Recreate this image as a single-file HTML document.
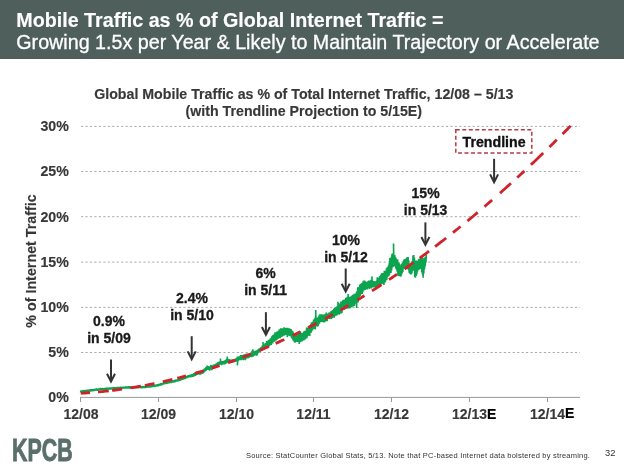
<!DOCTYPE html>
<html><head><meta charset="utf-8">
<style>
html,body{margin:0;padding:0;background:#fff;}
body{width:624px;height:470px;position:relative;overflow:hidden;font-family:"Liberation Sans",Arial,Helvetica,sans-serif;}
.hdr{position:absolute;left:0;top:0;width:624px;height:57px;background:#4e5f5c;border-bottom:2px solid #545b58;}
.h1{position:absolute;left:16.3px;top:8.5px;font-size:19.7px;font-weight:bold;color:#fff;-webkit-text-stroke:0.15px #fff;white-space:nowrap;line-height:23px;}
.h2{position:absolute;left:16.3px;top:31.3px;font-size:19.7px;color:#fff;-webkit-text-stroke:0.3px #fff;white-space:nowrap;line-height:23px;}
.t{position:absolute;white-space:nowrap;font-weight:bold;color:#333;-webkit-text-stroke:0.3px currentColor;}
.ct{color:#383838;-webkit-text-stroke:0.15px currentColor;}
.yl,.xl,.xe,.yl2{color:#383838;-webkit-text-stroke:0.15px currentColor;}
.ann{color:#1a1a1a;}
.ct{left:0.8px;width:606px;text-align:center;font-size:14.2px;line-height:17px;}
.yl{width:40px;text-align:right;font-size:14.2px;line-height:16px;left:28.8px;margin-top:-0.7px;}
.xl{font-size:14px;line-height:16px;text-align:center;width:60px;}
.ann{font-size:14px;line-height:17px;text-align:center;width:80px;}
svg{position:absolute;left:0;top:0;}
.kpcb{position:absolute;left:12px;top:434px;font-size:31px;font-weight:bold;color:#5a6e6a;-webkit-text-stroke:0.9px #5a6e6a;transform-origin:0 0;transform:scaleX(0.69);line-height:34px;}
.src{position:absolute;left:246px;top:450.8px;font-size:7.5px;letter-spacing:0.21px;color:#333;white-space:nowrap;line-height:9px;}
.pg{position:absolute;left:605px;top:447.5px;font-size:9.3px;color:#333;line-height:11px;}
</style></head><body>
<div id="wrap" style="position:absolute;left:0;top:0;width:624px;height:470px;will-change:transform;">
<div class="hdr"></div>
<div class="h1">Mobile Traffic as % of Global Internet Traffic =</div>
<div class="h2">Growing 1.5x per Year &amp; Likely to Maintain Trajectory or Accelerate</div>

<div class="t ct" style="top:86px;">Global Mobile Traffic as % of Total Internet Traffic, 12/08 – 5/13</div>
<div class="t ct" style="top:102.5px;">(with Trendline Projection to 5/15E)</div>

<svg width="624" height="470" viewBox="0 0 624 470">
  <g stroke="#ababab" stroke-width="1" stroke-dasharray="2.2 2.25" fill="none">
    <line x1="81" y1="126.4" x2="580" y2="126.4"/>
    <line x1="81" y1="171.5" x2="580" y2="171.5"/>
    <line x1="81" y1="216.7" x2="580" y2="216.7"/>
    <line x1="81" y1="262.1" x2="580" y2="262.1"/>
    <line x1="81" y1="307.4" x2="580" y2="307.4"/>
    <line x1="81" y1="352.5" x2="580" y2="352.5"/>
  </g>
  <g stroke="#9a9a9a" stroke-width="1" fill="none">
    <line x1="80" y1="397.4" x2="580" y2="397.4"/>
    <line x1="80.5" y1="397" x2="80.5" y2="402"/>
    <line x1="158.5" y1="397" x2="158.5" y2="402"/>
    <line x1="236.5" y1="397" x2="236.5" y2="402"/>
    <line x1="313.5" y1="397" x2="313.5" y2="402"/>
    <line x1="391.5" y1="397" x2="391.5" y2="402"/>
    <line x1="469.5" y1="397" x2="469.5" y2="402"/>
    <line x1="547.5" y1="397" x2="547.5" y2="402"/>
  </g>
  <polyline points="80.50,392.5 81.10,390.5 81.70,392.5 82.30,390.6 82.90,392.2 83.50,390.0 84.10,392.0 84.70,390.2 85.30,392.2 85.90,389.9 86.50,391.8 87.10,389.8 87.70,391.8 88.30,389.7 88.90,391.4 89.50,389.4 90.10,391.5 90.70,389.3 91.30,391.4 91.90,389.2 92.50,391.3 93.10,389.2 93.70,391.0 94.30,388.9 94.90,390.8 95.50,388.7 96.10,390.6 96.70,388.5 97.30,390.7 97.90,388.6 98.50,390.4 99.10,388.4 99.70,390.1 100.30,388.0 100.90,390.1 101.50,388.2 102.10,390.1 102.70,388.1 103.30,390.2 103.90,388.1 104.50,389.7 105.10,388.0 105.70,389.8 106.30,387.8 106.90,389.9 107.50,387.6 108.10,389.6 108.70,387.8 109.30,389.5 109.90,387.4 110.50,389.5 111.10,387.4 111.70,389.3 112.30,387.6 112.90,389.5 113.50,387.3 114.10,389.2 114.70,387.3 115.30,389.0 115.90,387.3 116.50,388.9 117.10,386.9 117.70,389.0 118.30,387.1 118.90,389.1 119.50,387.0 120.10,388.7 120.70,386.8 121.30,389.0 121.90,386.9 122.50,388.8 123.10,386.8 123.70,388.5 124.30,386.8 124.90,388.5 125.50,386.5 126.10,388.6 126.70,386.4 127.30,388.4 127.90,386.6 128.50,388.4 129.10,386.3 129.70,388.6 130.30,386.5 130.90,388.4 131.50,386.5 132.10,388.5 132.70,386.6 133.30,388.2 133.90,386.4 134.50,388.2 135.10,386.2 135.70,388.4 136.30,386.3 136.90,388.4 137.50,386.2 138.10,388.4 138.70,386.0 139.30,388.1 139.90,386.1 140.50,388.0 141.10,386.1 141.70,388.2 142.30,385.9 142.90,388.1 143.50,386.2 144.10,387.9 144.70,386.0 145.30,388.1 145.90,386.0 146.50,387.7 147.10,385.8 147.70,387.6 148.30,385.5 148.90,387.6 149.50,385.6 150.10,387.4 150.70,385.5 151.30,387.3 151.90,385.3 152.50,386.9 153.10,385.2 153.70,387.0 154.30,384.8 154.90,386.7 155.50,384.6 156.10,386.5 156.70,384.5 157.30,386.2 157.90,384.2 158.50,386.2 159.10,384.0 159.70,385.6 160.30,383.5 160.65,385.6 161.00,383.2 161.35,385.3 161.70,383.3 162.05,385.1 162.40,382.8 162.75,384.6 163.10,382.6 163.45,384.3 163.80,382.3 164.15,384.4 164.50,382.0 164.85,384.2 165.20,382.2 165.55,384.1 165.90,382.0 166.25,383.8 166.60,381.9 166.95,383.8 167.30,381.8 167.65,383.7 168.00,381.5 168.35,383.4 168.70,381.4 169.05,383.4 169.40,381.2 169.75,383.2 170.10,381.0 170.45,383.1 170.80,380.9 171.15,383.0 171.50,380.8 171.85,382.7 172.20,380.4 172.55,382.5 172.90,380.5 173.25,382.5 173.60,380.4 173.95,382.2 174.30,379.9 174.65,382.3 175.00,379.8 175.35,382.1 175.70,379.6 176.05,381.7 176.40,379.5 176.75,381.5 177.10,379.3 177.45,381.3 177.80,379.4 178.15,381.3 178.50,379.0 178.85,381.1 179.20,378.8 179.55,380.9 179.90,378.7 180.25,380.6 180.60,378.6 180.95,380.3 181.30,378.0 181.65,380.2 182.00,377.8 182.35,379.8 182.70,377.6 183.05,379.5 183.40,377.3 183.75,379.3 184.10,377.4 184.45,379.2 184.80,376.9 185.15,378.8 185.50,376.5 185.85,378.4 186.20,376.3 186.55,378.2 186.90,376.0 187.25,378.0 187.60,375.8 187.95,377.7 188.30,375.2 188.65,377.3 189.00,375.4 189.35,377.2 189.70,374.9 190.05,377.5 190.40,374.9 190.75,377.4 191.10,374.4 191.45,376.8 191.80,374.3 192.15,376.7 192.50,373.9 192.85,376.8 193.20,373.9 193.55,376.4 193.90,373.1 194.25,376.4 194.60,373.0 194.95,375.8 195.30,372.3 195.65,375.9 196.00,372.3 196.35,375.0 196.70,371.7 197.05,374.9 197.40,371.5 197.75,374.3 198.10,371.0 198.45,374.4 198.80,370.8 199.15,374.6 199.50,371.5 199.85,374.3 200.20,371.3 200.55,374.7 200.90,370.7 201.25,374.0 201.60,370.7 201.95,373.8 202.30,370.2 202.65,373.7 203.00,370.2 203.35,373.3 203.70,369.4 204.05,372.3 204.40,368.9 204.75,371.6 205.10,368.0 205.45,371.3 205.80,367.4 206.15,370.6 206.50,366.8 206.85,369.7 207.20,365.5 207.55,369.7 207.90,366.1 208.25,369.9 208.60,366.4 208.95,369.6 209.30,366.6 209.65,370.6 210.00,366.2 210.35,369.5 210.70,365.1 211.05,369.5 211.40,366.1 211.75,370.3 212.10,365.4 212.45,369.0 212.80,365.7 213.15,368.9 213.50,364.5 213.85,368.5 214.20,365.4 214.55,368.2 214.90,364.2 215.25,367.7 215.60,364.2 215.95,367.2 216.30,363.3 216.65,367.1 217.00,363.0 217.35,366.0 217.70,362.4 218.05,366.7 218.40,362.1 218.75,365.3 219.10,361.7 219.45,364.7 219.80,361.9 220.15,364.4 220.50,361.4 220.40,358.5 220.70,362.9 220.85,364.6 221.20,361.3 221.55,365.3 221.90,361.0 222.25,364.4 222.60,361.0 222.95,364.5 223.30,361.1 223.65,364.3 224.00,360.9 224.35,364.5 224.70,360.6 225.05,364.2 225.40,360.0 225.75,363.5 226.10,359.5 226.45,363.4 226.80,358.8 227.15,362.7 227.50,358.9 227.20,356.5 227.50,360.8 227.85,362.5 228.20,359.0 228.55,363.1 228.90,359.1 229.25,362.6 229.60,359.3 229.95,362.6 230.30,359.6 230.65,362.9 231.00,359.7 231.35,362.6 231.70,359.6 232.05,362.4 232.40,359.3 232.75,362.6 233.10,359.3 233.45,362.4 233.80,359.5 234.15,362.2 234.50,359.2 234.85,361.6 235.20,359.0 235.55,361.5 235.90,358.4 236.25,361.7 236.60,358.5 236.95,361.1 237.30,356.5 237.65,360.9 237.40,365.4 237.70,359.3 238.00,357.4 238.35,360.9 238.70,356.7 239.05,360.2 239.40,356.3 239.75,360.2 240.10,355.7 240.45,360.2 240.80,355.1 241.15,360.1 241.50,355.6 241.85,359.6 242.20,355.0 242.55,359.5 242.90,355.4 243.25,360.2 243.60,354.8 243.95,359.8 244.30,354.2 244.65,358.8 245.00,354.4 245.35,360.2 245.70,353.9 246.05,358.8 246.40,353.8 246.75,358.4 247.10,353.6 247.45,358.0 247.80,353.6 248.15,358.1 248.50,353.9 248.85,357.9 249.20,353.6 249.55,357.3 249.90,353.3 250.25,357.0 250.60,353.2 250.95,356.9 251.30,353.1 251.65,357.1 252.00,350.7 252.35,356.3 252.70,352.2 253.05,356.7 252.80,349.3 253.10,354.3 253.40,351.7 253.75,356.0 254.10,351.4 254.45,355.4 254.80,350.9 255.15,355.3 255.50,350.7 255.85,355.3 256.20,350.5 256.55,355.6 256.90,350.4 257.25,355.2 257.60,349.7 257.95,353.2 258.30,349.2 258.65,352.6 259.00,348.5 259.35,352.0 259.70,348.2 260.05,351.5 260.40,347.7 260.75,351.4 261.10,347.0 261.45,350.6 261.80,346.6 262.15,350.8 262.50,345.3 262.85,349.9 263.20,345.0 263.00,342.0 263.30,347.5 263.55,349.4 263.90,344.5 264.25,349.6 264.60,344.4 264.95,348.9 265.30,343.1 265.65,348.8 266.00,343.4 266.35,347.9 266.70,341.1 267.05,347.9 267.40,341.9 267.75,346.8 268.10,340.6 268.45,347.2 268.80,340.0 269.15,346.2 269.50,339.5 269.85,345.5 270.20,338.5 270.55,344.8 270.90,338.2 271.25,344.9 271.60,336.6 271.95,343.2 272.30,335.9 272.65,343.5 273.00,335.0 273.35,341.8 273.70,334.9 274.05,341.0 274.40,333.9 274.75,341.6 275.10,332.2 275.45,340.0 275.80,333.2 276.15,340.5 276.50,332.3 276.85,339.9 277.20,331.4 277.55,339.0 277.90,331.5 278.25,338.7 278.60,330.9 278.95,338.3 279.30,329.3 279.65,336.8 280.00,329.7 280.35,338.1 280.70,328.4 281.05,336.6 281.40,328.4 281.75,337.0 282.10,328.2 282.45,336.3 282.80,328.6 283.15,335.2 283.50,328.2 283.85,335.8 284.20,327.3 284.55,335.4 284.90,327.9 285.25,334.7 285.60,328.0 285.95,334.9 286.30,328.2 286.65,335.0 287.00,327.9 287.35,337.2 287.70,327.9 288.05,334.7 288.40,328.5 288.75,335.6 289.10,328.3 289.45,335.3 289.80,328.5 290.15,336.1 290.50,329.1 290.85,336.3 291.20,329.4 291.55,338.2 291.90,330.5 292.25,338.4 292.60,331.0 292.95,340.2 293.30,332.3 293.65,340.8 294.00,333.3 294.35,342.1 294.70,333.9 295.05,342.6 295.40,334.5 295.75,341.8 296.10,334.1 296.45,341.7 296.80,334.4 297.15,341.9 297.50,334.2 297.85,341.7 298.20,334.8 298.55,341.9 298.90,334.1 299.25,343.9 299.60,333.1 299.95,342.3 300.30,331.2 300.65,341.9 301.00,332.8 301.35,340.8 301.70,333.1 302.05,341.4 302.40,333.0 302.75,340.7 303.10,332.6 303.45,340.2 303.80,331.9 304.15,340.3 304.50,330.8 304.85,339.5 305.20,331.6 305.55,339.0 305.90,330.7 306.25,337.6 306.60,327.6 306.95,338.2 307.30,328.8 307.65,335.9 308.00,327.7 308.35,335.8 308.70,326.6 309.05,335.6 309.40,325.2 309.75,335.9 310.10,325.4 310.45,332.4 310.80,324.1 311.15,332.7 311.50,322.3 311.85,331.3 312.20,322.4 312.55,330.1 312.90,321.7 313.25,328.7 313.60,319.6 313.95,329.0 314.30,319.3 314.65,328.0 315.00,317.7 315.35,329.5 315.70,317.4 315.70,310.1 316.00,322.0 316.05,326.0 316.40,317.5 316.75,325.7 317.10,317.6 317.45,326.7 317.80,318.1 318.15,325.9 318.50,316.9 318.85,324.4 319.20,315.4 319.55,323.4 319.90,314.2 320.25,322.0 320.60,314.3 320.95,321.9 321.30,314.5 321.65,321.8 322.00,314.2 322.35,322.3 322.70,315.3 323.05,321.8 323.40,315.0 323.75,322.5 324.10,314.3 324.45,322.3 324.80,314.2 325.15,321.7 325.50,314.1 325.85,321.2 326.20,312.6 326.55,320.9 326.90,314.2 327.25,321.1 327.60,313.9 327.95,318.9 328.30,313.2 328.65,318.6 329.00,312.6 329.35,318.9 329.70,312.6 330.05,318.5 330.40,312.0 330.75,318.6 331.10,311.1 331.45,319.0 331.80,311.3 332.15,317.9 332.50,310.1 332.85,317.8 333.20,309.7 333.55,317.1 333.90,308.8 334.25,317.6 334.60,308.1 334.95,316.2 335.30,307.3 335.65,315.6 336.00,307.4 336.35,315.8 336.70,306.8 337.05,315.2 337.40,305.7 337.75,314.4 338.10,305.7 337.90,301.7 338.20,309.6 338.45,312.6 338.80,302.9 339.15,314.6 339.50,304.9 339.85,312.1 340.20,304.2 340.55,313.8 340.90,301.6 341.25,311.5 341.60,301.9 341.95,313.1 342.30,301.3 342.65,310.3 343.00,300.1 343.35,309.4 343.70,299.7 344.05,310.0 344.40,299.6 344.75,309.5 345.10,299.5 345.45,308.0 345.80,297.7 346.15,308.7 346.50,297.9 346.85,308.8 347.20,296.8 347.55,307.3 347.90,298.1 348.25,308.5 348.10,294.0 348.40,302.5 348.60,297.9 348.95,308.1 349.30,296.8 349.65,308.4 350.00,297.3 350.35,308.0 350.70,296.4 351.05,307.1 351.40,296.2 351.75,307.3 352.10,295.4 352.45,305.5 352.80,294.7 353.15,306.5 353.50,294.7 353.85,305.9 354.20,293.8 354.55,305.6 354.90,294.9 355.25,303.8 355.60,293.8 355.95,302.8 356.30,292.5 356.65,304.2 356.60,308.0 356.90,297.4 357.00,290.9 357.35,302.6 357.70,287.3 358.05,302.4 358.40,287.3 358.75,299.8 359.10,286.8 359.45,297.1 359.80,284.7 360.15,295.9 360.50,283.7 360.85,294.0 361.20,283.9 361.55,294.2 361.90,283.0 362.25,293.9 362.60,282.4 362.95,291.6 363.30,280.7 363.65,290.7 364.00,280.6 364.35,290.0 364.70,280.6 365.05,290.0 365.40,281.5 365.75,289.0 366.10,281.7 366.45,289.2 366.80,282.0 367.15,289.4 367.50,281.7 367.85,288.2 368.20,281.0 368.55,288.2 368.90,280.5 369.25,289.0 369.60,280.5 369.95,288.3 370.30,280.5 370.65,287.5 371.00,279.8 371.35,288.5 371.70,280.1 372.05,287.6 371.90,276.4 372.20,284.0 372.40,280.2 372.75,287.2 373.10,281.1 373.45,287.2 373.80,281.0 374.15,287.4 374.50,282.0 374.85,287.2 375.20,281.4 375.55,287.3 375.90,281.4 376.25,286.8 376.60,280.5 376.95,286.6 377.30,277.4 377.65,285.9 378.00,278.3 378.35,285.9 378.70,278.1 379.05,286.4 379.40,276.5 379.75,284.9 380.10,276.0 380.45,284.1 380.80,274.8 381.15,284.3 381.50,273.5 381.85,284.1 382.20,273.0 382.55,282.9 382.90,273.5 383.25,283.8 383.60,273.1 383.95,284.9 384.30,270.8 384.65,282.7 385.00,270.7 385.35,281.9 385.70,271.1 386.05,280.2 386.40,268.5 386.75,280.2 387.10,267.6 387.45,277.1 387.80,267.1 388.15,276.1 388.50,265.5 388.85,276.3 389.20,263.2 389.55,274.8 389.90,258.1 390.25,273.0 390.60,259.6 390.95,273.1 391.30,256.7 391.65,270.5 392.00,253.7 392.35,267.5 392.70,253.6 393.05,267.1 393.40,253.0 393.75,264.9 393.50,243.4 393.80,259.4 394.10,254.9 394.45,266.1 394.80,255.1 395.15,266.4 395.50,256.9 395.85,268.5 396.20,258.6 396.55,269.9 396.90,260.2 397.25,272.0 397.60,259.3 397.95,275.6 398.30,263.1 398.65,276.2 399.00,262.5 399.35,275.9 399.70,264.0 400.05,276.2 400.40,267.0 400.75,276.8 401.10,265.2 401.45,275.6 401.80,263.8 402.15,273.3 402.50,263.0 402.85,272.0 403.20,261.3 403.55,268.8 403.90,259.8 404.25,268.4 404.60,259.0 404.95,268.2 405.30,260.2 405.65,266.6 406.00,258.9 406.35,268.8 406.70,257.7 407.05,269.1 407.40,256.9 407.75,268.4 408.10,257.1 408.45,270.0 408.80,260.5 409.15,272.8 409.50,263.5 409.85,273.4 410.20,264.8 410.55,274.5 410.90,265.9 411.25,274.2 411.60,266.4 411.95,273.3 412.30,260.9 412.65,270.5 413.00,255.6 413.35,267.8 413.70,255.0 414.05,270.9 414.40,257.4 414.75,277.0 415.10,261.3 415.45,277.7 415.80,260.6 416.15,275.9 416.50,260.4 416.85,274.4 417.20,261.0 417.55,271.6 417.90,260.7 418.25,269.9 418.60,259.2 418.95,269.7 419.30,258.4 419.65,269.2 420.00,259.1 420.35,268.1 420.70,258.4 421.05,268.9 421.40,257.0 421.75,272.3 422.10,257.1 422.45,274.5 422.80,259.2 423.15,277.8 423.50,258.5 423.85,273.6 424.20,257.8 424.55,269.2 424.90,257.6 425.25,266.2 425.60,256.7 425.95,262.7 426.30,254.9" fill="none" stroke="#0da44f" stroke-width="1.6" stroke-linejoin="miter" stroke-miterlimit="2"/>
  <path d="M80.80,393.26 L82.33,393.17 L83.87,393.08 L85.40,392.98 L86.93,392.87 L88.47,392.76 L90.00,392.65 M98.00,391.97 L99.54,391.82 L101.09,391.67 L102.63,391.52 L104.17,391.36 L105.71,391.19 L107.26,391.02 L108.80,390.85 M112.10,390.45 L113.77,390.25 L115.43,390.04 L117.10,389.82 L118.77,389.60 L120.43,389.37 L122.10,389.13 M130.40,387.88 L131.90,387.64 L133.40,387.39 L134.90,387.14 L136.40,386.89 L137.90,386.63 L139.40,386.37 L140.90,386.10 M144.90,385.36 L146.48,385.06 L148.07,384.75 L149.65,384.44 L151.23,384.12 L152.82,383.80 L154.40,383.47 M162.80,381.66 L164.40,381.29 L166.00,380.92 L167.60,380.55 L169.20,380.17 L170.80,379.79 L172.40,379.40 M177.20,378.20 L178.96,377.75 L180.72,377.30 L182.48,376.83 L184.24,376.37 L186.00,375.89 M194.90,373.39 L196.68,372.87 L198.46,372.34 L200.24,371.81 L202.02,371.27 L203.80,370.73 M211.90,368.17 L213.44,367.67 L214.98,367.16 L216.52,366.65 L218.06,366.14 L219.60,365.62 M228.10,362.66 L229.62,362.11 L231.14,361.57 L232.66,361.01 L234.18,360.45 L235.70,359.89 M242.60,357.28 L244.28,356.63 L245.96,355.97 L247.64,355.31 L249.32,354.64 L251.00,353.97 M259.60,350.44 L261.15,349.79 L262.70,349.13 L264.25,348.47 L265.80,347.80 L267.35,347.13 L268.90,346.45 M275.70,343.43 L277.42,342.65 L279.14,341.87 L280.86,341.08 L282.58,340.28 L284.30,339.48 M292.80,335.43 L294.32,334.69 L295.84,333.94 L297.36,333.19 L298.88,332.44 L300.40,331.68 M308.10,327.77 L309.80,326.89 L311.50,326.01 L313.20,325.12 L314.90,324.22 L316.60,323.32 M324.80,318.89 L326.40,318.01 L328.00,317.13 L329.60,316.24 L331.20,315.35 L332.80,314.45 M340.40,310.11 L342.02,309.17 L343.64,308.22 L345.26,307.27 L346.88,306.31 L348.50,305.35 M357.30,300.05 L359.10,298.94 L360.90,297.83 L362.70,296.72 L364.50,295.59 M372.00,290.85 L373.58,289.83 L375.17,288.81 L376.75,287.78 L378.33,286.75 L379.92,285.72 L381.50,284.68 M389.00,279.68 L390.60,278.60 L392.20,277.52 L393.80,276.43 L395.40,275.33 L397.00,274.23 M404.50,269.01 L406.28,267.76 L408.06,266.50 L409.84,265.23 L411.62,263.96 L413.40,262.68 M419.70,258.10 L421.25,256.96 L422.80,255.82 L424.35,254.67 L425.90,253.52 L427.45,252.37 L429.00,251.20 M435.10,246.59 L436.69,245.38 L438.27,244.16 L439.86,242.94 L441.44,241.72 L443.03,240.49 L444.61,239.25 L446.20,238.01 M453.00,232.64 L454.52,231.43 L456.04,230.21 L457.56,228.99 L459.08,227.76 L460.60,226.53 M467.40,220.97 L469.12,219.56 L470.83,218.13 L472.55,216.71 L474.27,215.27 L475.98,213.83 L477.70,212.39 M484.50,206.61 L486.02,205.30 L487.54,203.99 L489.06,202.68 L490.58,201.36 L492.10,200.04 M500.00,193.10 L501.56,191.72 L503.11,190.33 L504.67,188.94 L506.23,187.55 L507.79,186.15 L509.34,184.74 L510.90,183.33 M517.20,177.58 L519.00,175.93 L520.80,174.27 L522.60,172.60 L524.40,170.92 M530.90,164.82 L532.44,163.37 L533.98,161.91 L535.51,160.45 L537.05,158.98 L538.59,157.51 L540.12,156.03 L541.66,154.55 L543.20,153.07 M549.40,147.03 L551.25,145.22 L553.10,143.40 L554.95,141.57 L556.80,139.74 M562.50,134.05 L564.12,132.42 L565.74,130.79 L567.36,129.15 L568.98,127.51 L570.60,125.86" fill="none" stroke="#d0222a" stroke-width="2.8"/>
  <rect x="455.8" y="129.8" width="76" height="23.2" fill="none" stroke="#b43a46" stroke-width="1.5" stroke-dasharray="4 2.5"/>
  <g stroke="#333" stroke-width="2" fill="none" stroke-linejoin="miter">
    <line x1="111" y1="359.4" x2="111" y2="380.5"/>
    <polyline points="107.0,373.7 111,381.5 115.0,373.7"/>
    <line x1="191.7" y1="336.2" x2="191.7" y2="358.2"/>
    <polyline points="187.7,351.4 191.7,359.2 195.7,351.4"/>
    <line x1="265.9" y1="312.2" x2="265.9" y2="333.8"/>
    <polyline points="261.9,327.0 265.9,334.8 269.9,327.0"/>
    <line x1="345.7" y1="268.5" x2="345.7" y2="290.5"/>
    <polyline points="341.7,283.7 345.7,291.5 349.7,283.7"/>
    <line x1="425.4" y1="222.4" x2="425.4" y2="243.8"/>
    <polyline points="421.4,237.0 425.4,244.8 429.4,237.0"/>
    <line x1="494.1" y1="158.8" x2="494.1" y2="181.2"/>
    <polyline points="490.1,174.4 494.1,182.2 498.1,174.4"/>
  </g>
</svg>

<div class="t yl" style="top:119.00px;">30%</div>
<div class="t yl" style="top:164.16px;">25%</div>
<div class="t yl" style="top:209.32px;">20%</div>
<div class="t yl" style="top:254.48px;">15%</div>
<div class="t yl" style="top:299.64px;">10%</div>
<div class="t yl" style="top:344.80px;">5%</div>
<div class="t yl" style="top:389.96px;">0%</div>

<div class="t yl2" style="left:30.5px;top:261px;font-size:14.3px;line-height:15px;transform:translate(-50%,-50%) rotate(-90deg);">% of Internet Traffic</div>

<div class="t xl" style="left:51px;top:406px;">12/08</div>
<div class="t xl" style="left:128.5px;top:406px;">12/09</div>
<div class="t xl" style="left:206.5px;top:406px;">12/10</div>
<div class="t xl" style="left:283.5px;top:406px;">12/11</div>
<div class="t xl" style="left:361.5px;top:406px;">12/12</div>
<div class="t xe" style="left:452px;top:406px;font-size:14px;line-height:16px;">12/13<span style="color:#000;">E</span></div>
<div class="t xe" style="left:530px;top:406px;font-size:14px;line-height:16px;">12/14<span style="color:#000;position:relative;top:-1px;">E</span></div>

<div class="t ann" style="left:69px;top:313px;">0.9%<br>in 5/09</div>
<div class="t ann" style="left:152px;top:290px;">2.4%<br>in 5/10</div>
<div class="t ann" style="left:225.6px;top:265px;">6%<br>in 5/11</div>
<div class="t ann" style="left:306px;top:232px;">10%<br>in 5/12</div>
<div class="t ann" style="left:385.6px;top:185px;">15%<br>in 5/13</div>

<div class="t" style="left:462.5px;top:133.8px;font-size:14.2px;line-height:16px;color:#111;">Trendline</div>

<div class="kpcb">KPCB</div>
<div class="src">Source: StatCounter Global Stats, 5/13. Note that PC-based Internet data bolstered by streaming.</div>
<div class="pg">32</div>
</div>
</body></html>
